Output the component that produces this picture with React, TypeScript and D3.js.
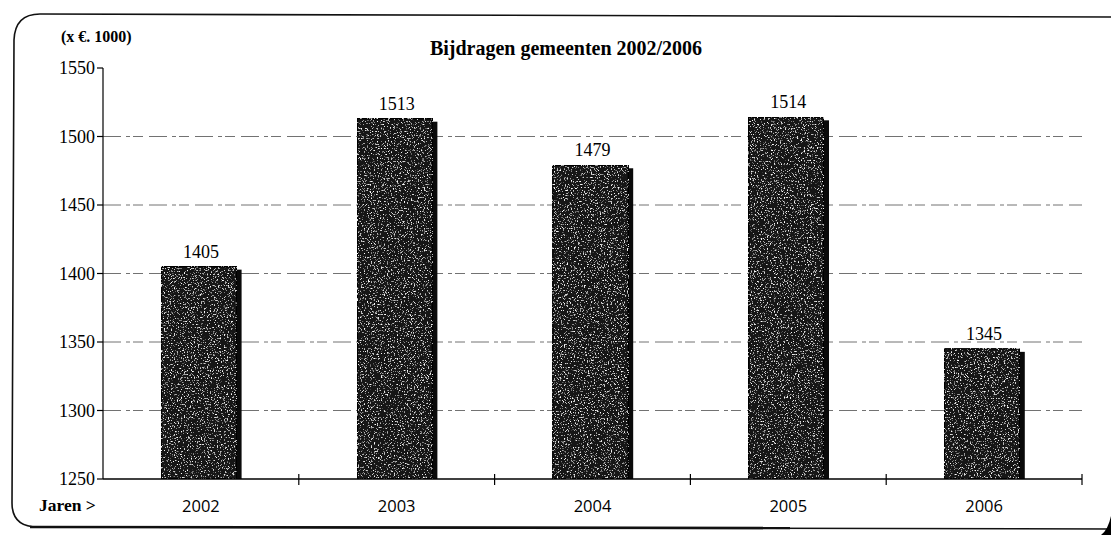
import React from 'react';
import * as d3 from 'd3';

const categories = ['2002', '2003', '2004', '2005', '2006'];
const values = [1405, 1513, 1479, 1514, 1345];
const yTicks = [1250, 1300, 1350, 1400, 1450, 1500, 1550];
const gridValues = [1300, 1350, 1400, 1450, 1500];
const title = 'Bijdragen gemeenten 2002/2006';
const unitLabel = '(x €. 1000)';
const xAxisLabel = 'Jaren >';

const W = 1111;
const H = 535;
const left = 103;
const right = 1082;
const top = 68;
const bottom = 479;

export default function App() {
  const x = d3.scaleBand<string>().domain(categories).range([left, right]).paddingInner(0).paddingOuter(0);
  const y = d3.scaleLinear().domain([1250, 1550]).range([bottom, top]);
  const bw = x.bandwidth();
  const barW = bw * 0.385;
  const serif = '"Liberation Serif", "Times New Roman", serif';
  const sans = '"Open Sans", "Noto Sans", sans-serif';

  return (
    <svg width={W} height={H} style={{ position: 'absolute', left: 0, top: 0, background: '#fff' }}>
      <defs>
        <filter id="speckle" x="0" y="0" width="1" height="1">
          <feTurbulence type="fractalNoise" baseFrequency="0.7" numOctaves="3" seed="7" result="noise" />
          <feColorMatrix in="noise" type="matrix"
            values="0 0 0 0 1  0 0 0 0 1  0 0 0 0 1  5 0 0 0 -2.95" result="specks" />
          <feComposite in="specks" in2="SourceGraphic" operator="in" result="clipped" />
          <feMerge>
            <feMergeNode in="SourceGraphic" />
            <feMergeNode in="clipped" />
          </feMerge>
        </filter>
      </defs>

      {/* frame */}
      <path d={`M ${W + 20} 17 L 40 14 Q 15 14 14 40 L 12 503 Q 12 527 38 527 L ${W + 20} 529`}
        fill="none" stroke="#111" strokeWidth={1.6} />
      <path d={`M 30 527 L 790 528`} fill="none" stroke="#111" strokeWidth={2.6} />
      <path d={`M ${W} 516 Q 1108 530 1101 535 L ${W} 535 Z`} fill="#000" />

      {/* titles */}
      <text x={566} y={55} textAnchor="middle" fontFamily={serif} fontWeight="bold" fontSize={20} fill="#000">{title}</text>
      <text x={61} y={42} fontFamily={serif} fontWeight="bold" fontSize={16} fill="#000">{unitLabel}</text>
      <text x={39} y={511} fontFamily={serif} fontWeight="bold" fontSize={17.5} fill="#000">{xAxisLabel}</text>

      {/* gridlines */}
      {gridValues.map((v) => (
        <line key={v} x1={left} x2={right} y1={y(v)} y2={y(v)} stroke="#444" strokeWidth={1}
          strokeDasharray="18 5 4 3 10 6" opacity={0.75} />
      ))}

      {/* bars */}
      {categories.map((c, i) => {
        const bx = (x(c) as number) + (bw - barW) / 2 - 2;
        const by = y(values[i]);
        return (
          <g key={c}>
            <rect x={bx + 5} y={by + 3} width={barW} height={bottom - by - 3} fill="#0a0a0a" />
            <rect x={bx} y={by} width={barW} height={bottom - by} fill="#161616" stroke="#000" strokeWidth={1.5}
              filter="url(#speckle)" />
            <text x={bx + barW / 2 + 2} y={by - 9} textAnchor="middle" fontFamily={serif} fontSize={18} fill="#000">
              {values[i]}
            </text>
          </g>
        );
      })}

      {/* y axis */}
      <line x1={left} x2={left} y1={top} y2={bottom} stroke="#000" strokeWidth={1.2} />
      {yTicks.map((t) => (
        <g key={t}>
          <line x1={left - 6} x2={left} y1={y(t)} y2={y(t)} stroke="#000" strokeWidth={1.2} />
          <text x={left - 8} y={y(t)} dy="0.35em" textAnchor="end" fontFamily={serif} fontSize={18} fill="#000">{t}</text>
        </g>
      ))}

      {/* x axis */}
      <line x1={left} x2={right} y1={bottom} y2={bottom} stroke="#000" strokeWidth={1.3} />
      {categories.map((c, i) => (
        <g key={c}>
          {i > 0 && <line x1={x(c)} x2={x(c)} y1={bottom - 5} y2={bottom + 6} stroke="#000" strokeWidth={1.2} />}
          <text x={(x(c) as number) + bw / 2} y={512} textAnchor="middle" fontFamily={sans} fontSize={16.5} fill="#000">{c}</text>
        </g>
      ))}
      <line x1={right} x2={right} y1={bottom - 5} y2={bottom + 6} stroke="#000" strokeWidth={1.2} />
    </svg>
  );
}
